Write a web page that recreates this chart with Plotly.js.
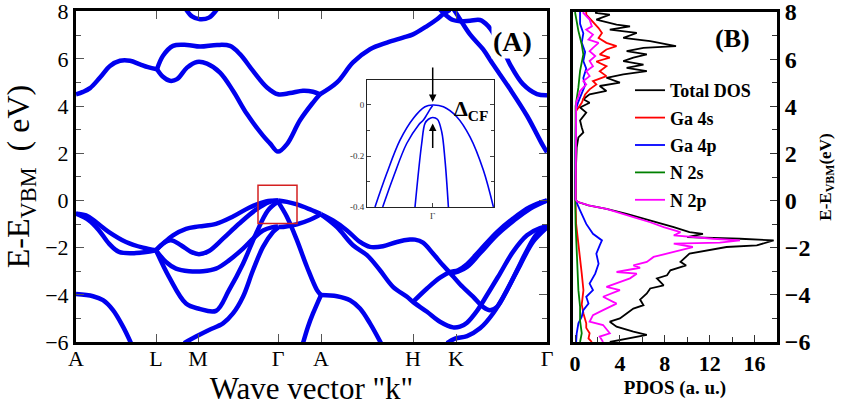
<!DOCTYPE html>
<html><head><meta charset="utf-8">
<script src="https://cdn.plot.ly/plotly-3.0.1.min.js"></script>
<style>html,body{margin:0;padding:0;background:#fff}</style>
</head><body><div id="chart" style="width:848px;height:407px"></div>
<script>
// ---------- Panel A: band structure (k in path units, E in eV) ----------
const kTicks  = [0, 80, 122, 202, 245, 337, 380, 471];
const kLabels = ['A', 'L', 'M', 'Γ', 'A', 'H', 'K', 'Γ'];

// conduction bands
const cbAL_k = [0, 7, 14, 24, 34, 44, 54, 64, 72, 81];
const cbAL_e = [4.5, 4.6, 4.76, 5.21, 5.7, 5.92, 5.92, 5.77, 5.65, 5.56];
const cbU_k = [81, 87, 97, 111, 124, 141, 154, 164, 177, 191, 202, 214, 227, 237, 244];
const cbU_e = [5.56, 6.13, 6.55, 6.59, 6.52, 6.59, 6.55, 6.2, 5.49, 4.79, 4.5, 4.55, 4.65, 4.61, 4.5];
const cbL_k = [81, 87, 94, 101, 111, 121, 131, 144, 157, 171, 187, 194, 202, 211, 224, 237, 244];
const cbL_e = [5.56, 5.24, 5.07, 5.14, 5.63, 5.87, 5.8, 5.42, 4.65, 3.66, 2.75, 2.42, 2.07, 2.39, 3.4, 4.15, 4.5];
const cbAH_k = [244, 261, 277, 294, 311, 327, 337, 351, 361, 367, 374];
const cbAH_e = [4.5, 5.0, 5.85, 6.41, 6.69, 6.9, 7.04, 7.39, 7.68, 7.89, 8.08];
const cbK1_k = [364, 370, 377, 384, 394, 404, 412, 420, 428, 434, 447, 461, 471];
const cbK1_e = [8.1, 7.85, 7.65, 7.6, 7.62, 7.65, 7.4, 6.9, 6.3, 5.77, 4.93, 4.51, 4.46];
const cbK2_k = [378, 383, 394, 407, 417, 434, 451, 467, 471];
const cbK2_e = [8.08, 7.75, 7.04, 6.41, 5.77, 4.72, 3.59, 2.32, 2.04];
const cbM_k = [110, 116, 124, 133, 141];
const cbM_e = [8.1, 7.8, 7.68, 7.75, 8.1];

// valence bands
const vbQ_k = [0, 10, 20, 33, 50, 67, 80];
const vbQ_e = [-0.56, -0.63, -0.92, -1.34, -1.76, -2.0, -2.11];
const vbP_k = [0, 13, 23, 33, 43, 60, 80];
const vbP_e = [-0.56, -0.85, -1.27, -1.83, -2.18, -2.23, -2.11];
const vbD0_k = [0, 17, 27, 37, 47, 55];
const vbD0_e = [-3.97, -4.06, -4.23, -4.65, -5.35, -6.05];
const vbT_k = [80, 87, 97, 110, 123, 140, 157, 173, 190, 202];
const vbT_e = [-2.11, -1.83, -1.48, -1.2, -1.1, -0.99, -0.68, -0.31, -0.04, 0];
const vbV_k = [80, 88, 95, 105, 115, 123, 133, 147, 163, 180, 193, 202];
const vbV_e = [-2.11, -1.8, -1.69, -1.9, -2.18, -2.28, -2.14, -1.62, -0.99, -0.39, -0.07, 0];
const vbW_k = [80, 90, 100, 113, 127, 140, 153, 167, 177, 187, 197, 202];
const vbW_e = [-2.11, -2.61, -2.89, -3.0, -3.0, -2.89, -2.54, -2.04, -1.62, -1.27, -1.13, -1.1];
const vbDp_k = [80, 93, 110, 123, 140, 153, 167, 180, 192, 202];
const vbDp_e = [-2.11, -3.24, -4.37, -4.59, -4.68, -3.8, -2.68, -1.41, -0.42, -0.05];
const vbLo_k = [108, 120, 133, 147, 157, 167, 177, 187, 197, 202];
const vbLo_e = [-6.05, -5.77, -5.49, -5.21, -4.79, -4.08, -2.96, -1.97, -1.34, -1.15];
const vbGA_k = [202, 211, 221, 234, 245];
const vbGA_e = [0, -0.06, -0.17, -0.38, -0.58];
const vbGA2_k = [202, 204, 221, 234, 245];
const vbGA2_e = [-1.12, -1.13, -1.01, -0.82, -0.58];
const vbCF_k = [202, 211, 221, 231, 241, 245];
const vbCF_e = [-0.05, -0.7, -1.69, -2.82, -3.8, -4.01];
const vbA1_k = [245, 237, 232, 227];
const vbA1_e = [-4.01, -4.79, -5.35, -6.05];
const vbA2_k = [245, 261, 274, 284, 294, 305];
const vbA2_e = [-4.01, -4.06, -4.23, -4.58, -5.21, -6.05];
const vbH1_k = [245, 257, 271, 284, 294, 307, 321, 334, 339, 347, 357, 367, 374, 384, 397, 407, 414, 421, 431, 441, 451, 461, 471];
const vbH1_e = [-0.59, -0.85, -1.27, -1.76, -1.97, -1.94, -1.76, -1.66, -1.66, -1.79, -2.25, -2.75, -3.07, -3.55, -4.08, -4.51, -4.65, -4.51, -3.8, -2.96, -2.11, -1.41, -1.13];
const vbH2_k = [245, 261, 277, 291, 304, 317, 331, 337, 351, 364, 377, 384, 391, 401, 411, 424, 437, 451, 464, 471];
const vbH2_e = [-0.59, -1.13, -1.9, -2.32, -2.96, -3.66, -4.08, -4.3, -4.72, -5.14, -5.38, -5.35, -5.18, -4.68, -4.01, -3.1, -2.18, -1.48, -1.17, -1.13];
const vbHu_k = [337, 351, 364, 374, 382, 391, 404, 421, 437, 454, 471];
const vbHu_e = [-4.3, -3.73, -3.27, -3.04, -2.96, -2.7, -2.11, -1.34, -0.77, -0.28, 0];
const vbHu2_k = [374, 382, 391, 404, 421, 437, 454, 471];
const vbHu2_e = [-3.1, -3.02, -2.82, -2.24, -1.46, -0.88, -0.35, 0];
const vbKl_k = [371, 379, 391, 404, 417, 431, 444, 457, 471];
const vbKl_e = [-6.05, -5.86, -5.75, -5.42, -4.79, -3.8, -2.75, -1.76, -1.15];

// ---------- Inset: zoom near Γ ----------
const inHH_u = [-57.7, -46, -32.7, -19.3, -7.7, 0, 10.7, 24, 37.3, 50.7, 60.7];
const inHH_e = [-0.4, -0.269, -0.138, -0.052, -0.007, 0, -0.007, -0.046, -0.125, -0.256, -0.4];
const inLH_u = [-50, -39.3, -26, -14.3, -9.3, -6, -2.7, 0];
const inLH_e = [-0.4, -0.282, -0.151, -0.079, -0.059, -0.039, -0.017, -0.002];
const inCF_u = [-17.7, -11, -7.7, -4.3, 0, 4.7, 9, 12.3, 15.7];
const inCF_e = [-0.4, -0.151, -0.072, -0.056, -0.049, -0.056, -0.105, -0.216, -0.4];

// ---------- Panel B: PDOS (E in eV, DOS in a.u.) ----------
const totE = [-6.0, -5.85, -5.7, -5.56, -5.35, -5.14, -5.0, -4.79, -4.58, -4.44, -4.2, -3.94, -3.73, -3.6, -3.3, -3.17, -2.96, -2.75, -2.6, -2.25, -2.11, -1.97, -1.9, -1.69, -1.62, -1.55, -1.41, -1.34, -1.13, -0.92, -0.7, -0.56, -0.35, -0.2, -0.05, 0.05, 1.0, 1.69, 2.25, 2.68, 2.89, 3.1, 3.4, 3.73, 3.95, 4.15, 4.3, 4.51, 4.65, 4.86, 5.0, 5.21, 5.35, 5.49, 5.63, 5.77, 5.92, 6.06, 6.2, 6.34, 6.48, 6.55, 6.76, 6.9, 7.11, 7.25, 7.39, 7.46, 7.68, 7.89, 7.96, 8.0];
const totD = [3.1, 4.6, 6.4, 5.2, 3.7, 3.1, 4.0, 4.6, 5.2, 6.1, 5.8, 6.4, 6.7, 7.9, 7.3, 8.2, 8.5, 9.9, 9.4, 10.2, 11.7, 13.5, 16.2, 17.7, 14.7, 10.0, 11.4, 10.2, 8.8, 7.3, 5.8, 4.6, 2.8, 1.2, 0.2, 0.05, 0.05, 0.1, 0.15, 0.3, 0.74, 0.6, 0.45, 1.0, 0.45, 1.3, 0.74, 1.3, 2.8, 2.2, 4.0, 2.8, 4.3, 6.4, 4.6, 6.1, 4.3, 5.2, 6.4, 4.6, 6.1, 9.0, 6.7, 4.3, 5.5, 3.1, 4.9, 3.7, 1.9, 3.1, 1.8, 2.0];
const ga4sE = [-6.0, -5.85, -5.63, -5.4, -5.21, -4.79, -4.4, -3.8, -3.1, -2.4, -1.7, -0.99, -0.1, 3.8, 4.15, 4.5, 4.72, 4.93, 5.07, 5.28, 5.49, 5.7, 5.9, 6.06, 6.2, 6.41, 6.55, 6.69, 6.9, 7.11, 7.32, 7.6, 7.89, 8.0];
const ga4sD = [1.5, 1.2, 1.3, 1.0, 1.0, 0.75, 0.6, 0.75, 0.6, 0.45, 0.3, 0.1, 0.05, 0.1, 0.6, 0.9, 1.3, 1.9, 1.6, 2.8, 2.2, 2.8, 1.9, 3.1, 2.2, 2.8, 3.7, 2.8, 2.1, 2.4, 2.1, 1.6, 1.0, 1.0];
const ga4pE = [-6.0, -5.63, -5.21, -4.93, -4.65, -4.37, -4.08, -3.8, -3.52, -3.1, -2.68, -2.25, -1.9, -1.69, -1.41, -0.99, -0.42, -0.05, 0.05, 2.0, 3.9, 4.2, 4.55, 4.9, 5.2, 5.6, 5.92, 6.3, 6.7, 7.1, 7.5, 8.0];
const ga4pD = [0.1, 0.15, 0.3, 0.6, 0.74, 1.2, 1.0, 1.6, 1.3, 1.8, 2.1, 1.9, 2.2, 2.4, 1.6, 1.0, 0.45, 0.1, 0.02, 0.03, 0.1, 0.3, 0.6, 0.9, 0.74, 1.0, 0.74, 0.9, 0.6, 0.74, 0.45, 0.45];
const n2sE = [-6.0, -5.63, -5.1, -4.5, -3.8, -2.4, -1.0, 0.0, 4.0, 4.8, 5.5, 6.2, 6.62, 7.2, 8.0];
const n2sD = [0.45, 0.6, 0.45, 0.45, 0.3, 0.15, 0.05, 0.02, 0.05, 0.3, 0.45, 0.74, 0.6, 0.3, 0.0];
const n2pE = [-6.0, -5.77, -5.63, -5.28, -5.14, -4.86, -4.65, -4.37, -4.08, -3.8, -3.66, -3.3, -3.1, -3.03, -2.85, -2.75, -2.6, -2.39, -2.18, -1.97, -1.83, -1.78, -1.69, -1.62, -1.48, -1.34, -1.13, -0.92, -0.7, -0.56, -0.35, -0.21, -0.05, 0.05, 1.0, 3.5, 4.15, 4.4, 4.65, 4.93, 5.07, 5.28, 5.49, 5.7, 5.92, 6.13, 6.34, 6.48, 6.69, 6.83, 7.04, 7.25, 7.39, 7.68, 7.96, 8.0];
const n2pD = [2.5, 2.2, 3.1, 2.5, 1.3, 1.6, 2.5, 3.7, 2.5, 4.0, 2.8, 4.9, 5.5, 3.7, 5.8, 5.2, 6.4, 7.0, 8.8, 10.5, 8.8, 12.9, 14.7, 12.3, 8.8, 9.4, 7.9, 6.7, 5.2, 4.3, 2.8, 1.3, 0.2, 0.05, 0.05, 0.1, 0.1, 0.3, 0.45, 1.0, 0.74, 1.3, 1.0, 1.6, 1.3, 1.8, 1.3, 1.6, 2.1, 1.2, 1.6, 1.0, 1.5, 1.3, 0.74, 0.8];

const pdosNames  = ['Total DOS', 'Ga 4s', 'Ga 4p', 'N 2s', 'N 2p'];
const pdosColors = ['#000000', '#ff0000', '#0000ff', '#008000', '#ff00ff'];

// ---------- build traces ----------
const BLUE = '#0000ee';
const bands = [
  [cbAL_k, cbAL_e], [cbU_k, cbU_e], [cbL_k, cbL_e], [cbAH_k, cbAH_e], [cbK1_k, cbK1_e], [cbK2_k, cbK2_e], [cbM_k, cbM_e],
  [vbQ_k, vbQ_e], [vbP_k, vbP_e], [vbD0_k, vbD0_e], [vbT_k, vbT_e], [vbV_k, vbV_e], [vbW_k, vbW_e], [vbDp_k, vbDp_e],
  [vbLo_k, vbLo_e], [vbGA_k, vbGA_e], [vbGA2_k, vbGA2_e], [vbCF_k, vbCF_e], [vbA1_k, vbA1_e], [vbA2_k, vbA2_e],
  [vbH1_k, vbH1_e], [vbH2_k, vbH2_e], [vbHu_k, vbHu_e], [vbHu2_k, vbHu2_e], [vbKl_k, vbKl_e]
];
const traces = [];
bands.forEach(b => traces.push({
  x: b[0], y: b[1], xaxis: 'x', yaxis: 'y', mode: 'lines', showlegend: false, hoverinfo: 'skip',
  line: {color: BLUE, width: 4.5, shape: 'spline', smoothing: 1}
}));
[[inHH_u, inHH_e], [inLH_u, inLH_e], [inCF_u, inCF_e]].forEach(b => traces.push({
  x: b[0], y: b[1], xaxis: 'x3', yaxis: 'y3', mode: 'lines', showlegend: false, hoverinfo: 'skip',
  line: {color: BLUE, width: 1.6, shape: 'spline', smoothing: 1}
}));
const pdos = [[totD, totE], [ga4sD, ga4sE], [ga4pD, ga4pE], [n2sD, n2sE], [n2pD, n2pE]];
pdos.forEach((p, i) => traces.push({
  x: p[0], y: p[1], xaxis: 'x2', yaxis: 'y2', mode: 'lines', name: pdosNames[i],
  legendgroup: 'g' + i, line: {color: pdosColors[i], width: 1.8}
}));

// ---------- layout ----------
const W = 848, H = 407;
const px = v => v / W, py = v => 1 - v / H;
const SERIF = 'Liberation Serif';

const layout = {
  width: W, height: H, margin: {l: 0, r: 0, t: 0, b: 0},
  paper_bgcolor: 'white', plot_bgcolor: 'white',
  font: {family: SERIF, color: 'black'},
  showlegend: true,
  legend: {x: px(630), y: py(72), xanchor: 'left', yanchor: 'top', bgcolor: 'rgba(0,0,0,0)',
           font: {family: SERIF, size: 18, weight: 'bold'}, tracegroupgap: 1},
  xaxis: {domain: [px(76), px(547)], range: [0, 471], anchor: 'y',
          tickmode: 'array', tickvals: kTicks, ticktext: kLabels,
          ticks: 'inside', ticklen: 8, tickwidth: 1, tickcolor: '#555', mirror: 'ticks',
          showline: true, linewidth: 3, linecolor: 'black', showgrid: false, zeroline: false,
          tickfont: {size: 22, family: SERIF}, ticklabelstandoff: -5,
          title: {text: 'Wave vector "k"', font: {size: 31, family: SERIF}, standoff: 2}},
  yaxis: {domain: [py(342), py(11)], range: [-6, 8.03], anchor: 'x',
          tickmode: 'linear', tick0: -6, dtick: 2, ticklabeloverflow: 'allow',
          ticks: 'inside', ticklen: 8, tickwidth: 1, tickcolor: '#555', mirror: 'ticks',
          minor: {dtick: 1, ticks: 'inside', ticklen: 5, tickcolor: '#555'},
          showline: true, linewidth: 3, linecolor: 'black', showgrid: false, zeroline: false,
          tickfont: {size: 22, family: SERIF},
          title: {text: 'E-E<sub>VBM</sub>&nbsp;&nbsp;( eV)', font: {size: 32, family: SERIF}, standoff: 10}},
  xaxis2: {domain: [px(573), px(777)], range: [-0.18, 18], anchor: 'y2',
           tickmode: 'array', tickvals: [0, 4, 8, 12, 16],
           ticks: 'inside', ticklen: 7, tickcolor: '#333',
           minor: {tickmode: 'array', tickvals: [2, 6, 10, 14], ticks: 'inside', ticklen: 5, tickcolor: '#333'},
           mirror: true, showline: true, linewidth: 3, linecolor: 'black', showgrid: false, zeroline: false,
           tickfont: {size: 22, family: SERIF, weight: 'bold'},
           title: {text: 'PDOS (a. u.)', font: {size: 19, family: SERIF, weight: 'bold'}, standoff: 6}},
  yaxis2: {domain: [py(342), py(12)], range: [-6, 8.0], anchor: 'x2', side: 'right',
           tickmode: 'linear', tick0: -6, dtick: 2, ticklabeloverflow: 'allow',
           ticks: 'inside', ticklen: 7, tickcolor: '#333',
           minor: {dtick: 1, ticks: 'inside', ticklen: 5, tickcolor: '#333'},
           mirror: true, showline: true, linewidth: 3, linecolor: 'black', showgrid: false, zeroline: false,
           tickfont: {size: 24, family: SERIF, weight: 'bold'},
           title: {text: 'E-E<sub>VBM</sub>(eV)', font: {size: 17, family: SERIF, weight: 'bold'}, standoff: 10}},
  xaxis3: {domain: [px(367), px(494)], range: [-65.7, 61.3], anchor: 'y3',
           tickmode: 'array', tickvals: [0], ticktext: ['Γ'],
           ticks: 'inside', ticklen: 4, tickcolor: '#444', mirror: 'ticks',
           showline: true, linewidth: 1, linecolor: '#222', showgrid: false, zeroline: false,
           tickfont: {size: 9, family: SERIF, color: '#333'}},
  yaxis3: {domain: [py(207), py(80)], range: [-0.4, 0.098], anchor: 'x3',
           tickmode: 'array', tickvals: [0, -0.2, -0.4], ticktext: ['0', '-0.2', '-0.4'],
           ticks: 'inside', ticklen: 4, tickcolor: '#444', mirror: 'ticks',
           minor: {tickmode: 'array', tickvals: [-0.1, -0.3], ticks: 'inside', ticklen: 3, tickcolor: '#444'},
           showline: true, linewidth: 1, linecolor: '#222', showgrid: false, zeroline: false,
           tickfont: {size: 9, family: SERIF, color: '#333'}},
  shapes: [
    {type: 'rect', xref: 'x', yref: 'y', x0: 182, x1: 221, y0: -0.98, y1: 0.64,
     line: {color: '#d42020', width: 1.5}, fillcolor: 'rgba(0,0,0,0)', layer: 'above'}
  ],
  annotations: [
    {xref: 'paper', yref: 'paper', x: px(512), y: py(42), xanchor: 'center', yanchor: 'middle',
     text: '<b>(A)</b>', showarrow: false, font: {size: 28, family: SERIF}, bgcolor: 'white', borderpad: 1},
    {xref: 'paper', yref: 'paper', x: px(732), y: py(39), xanchor: 'center', yanchor: 'middle',
     text: '<b>(B)</b>', showarrow: false, font: {size: 26, family: SERIF}},
    {xref: 'paper', yref: 'paper', x: px(452), y: py(110), xanchor: 'left', yanchor: 'middle',
     text: '<b>Δ<sub>CF</sub></b>', showarrow: false, font: {size: 22, family: SERIF}},
    {xref: 'x3', yref: 'y3', x: 0, y: 0.012, ax: 0, ay: -36, text: '', showarrow: true,
     arrowhead: 2, arrowsize: 1, arrowwidth: 1.5, arrowcolor: 'black'},
    {xref: 'x3', yref: 'y3', x: 0, y: -0.073, ax: 0, ay: 26, text: '', showarrow: true,
     arrowhead: 2, arrowsize: 1, arrowwidth: 1.5, arrowcolor: 'black'}
  ]
};

Plotly.newPlot('chart', traces, layout, {displayModeBar: false, staticPlot: true});
</script></body></html>
